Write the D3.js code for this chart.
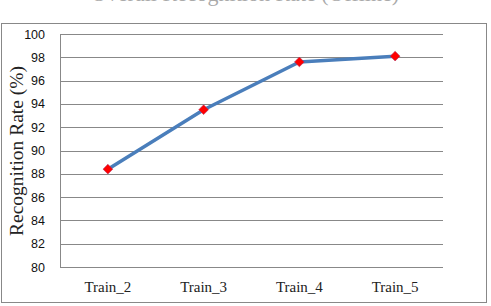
<!DOCTYPE html>
<html>
<head>
<meta charset="utf-8">
<script src="https://cdn.jsdelivr.net/npm/d3@7"></script>
<style>
  body { margin: 0; background: #fff; }
  svg { display: block; }
</style>
</head>
<body>
<div id="chart"></div>
<script>
// data
const categories = ["Train_2", "Train_3", "Train_4", "Train_5"];
const rates = [88.4, 93.5, 97.6, 98.1];
const yTicks = [80, 82, 84, 86, 88, 90, 92, 94, 96, 98, 100];

const width = 491, height = 306;
const margin = {top: 34, right: 48, bottom: 39, left: 60};

const svg = d3.select("#chart")
    .append("svg")
    .attr("width", width)
    .attr("height", height);

// title, mostly cut off at the top of the picture (as in the source image)
svg.append("text")
    .attr("x", 245)
    .attr("y", 1)
    .attr("text-anchor", "middle")
    .attr("font-family", "Liberation Serif, Times New Roman, serif")
    .attr("font-size", 22)
    .attr("fill", "#aaa")
    .text("Overall Recognition Rate (Offline)");

// outer chart frame
svg.append("rect")
    .attr("x", 1.5)
    .attr("y", 23.5)
    .attr("width", 485)
    .attr("height", 279)
    .attr("fill", "none")
    .attr("stroke", "#888")
    .attr("stroke-width", 1);

const x = d3.scalePoint()
    .domain(categories)
    .range([margin.left, width - margin.right])
    .padding(0.5);

const y = d3.scaleLinear()
    .domain([80, 100])
    .range([height - margin.bottom, margin.top]);

// gridlines
svg.append("g")
    .selectAll("line")
    .data(yTicks)
    .join("line")
    .attr("x1", margin.left)
    .attr("x2", width - margin.right)
    .attr("y1", d => Math.round(y(d)) + 0.5)
    .attr("y2", d => Math.round(y(d)) + 0.5)
    .attr("stroke", "#888")
    .attr("stroke-width", 1);

// left axis line
svg.append("line")
    .attr("x1", margin.left + 0.5)
    .attr("x2", margin.left + 0.5)
    .attr("y1", y(100))
    .attr("y2", y(80) + 0.5)
    .attr("stroke", "#888");

// y tick labels
svg.append("g")
    .selectAll("text")
    .data(yTicks)
    .join("text")
    .attr("x", 45)
    .attr("y", d => y(d))
    .attr("dy", "0.36em")
    .attr("text-anchor", "end")
    .attr("font-family", "Liberation Sans, Arial, sans-serif")
    .attr("font-size", 12.5)
    .attr("fill", "#111")
    .text(d => d);

// x labels
svg.append("g")
    .selectAll("text")
    .data(categories)
    .join("text")
    .attr("x", d => x(d))
    .attr("y", 292)
    .attr("text-anchor", "middle")
    .attr("font-family", "Liberation Serif, Times New Roman, serif")
    .attr("font-size", 15)
    .attr("fill", "#222")
    .text(d => d);

// y axis title
svg.append("text")
    .attr("transform", "translate(23,151) rotate(-90)")
    .attr("text-anchor", "middle")
    .attr("font-family", "Liberation Serif, Times New Roman, serif")
    .attr("font-size", 18)
    .attr("textLength", 170)
    .attr("lengthAdjust", "spacingAndGlyphs")
    .attr("fill", "#222")
    .text("Recognition Rate (%)");

// the line
const line = d3.line()
    .x((d, i) => x(categories[i]))
    .y(d => y(d));

svg.append("path")
    .datum(rates)
    .attr("d", line)
    .attr("fill", "none")
    .attr("stroke", "#4a7ebb")
    .attr("stroke-width", 3.5)
    .attr("stroke-linejoin", "round");

// diamond markers
svg.append("g")
    .selectAll("path")
    .data(rates)
    .join("path")
    .attr("transform", (d, i) => `translate(${x(categories[i])},${y(d)})`)
    .attr("d", d3.symbol().type(d3.symbolDiamond2).size(60))
    .attr("fill", "#ff0000")
    .attr("stroke", "#b03060")
    .attr("stroke-width", 0.6);
</script>
</body>
</html>
